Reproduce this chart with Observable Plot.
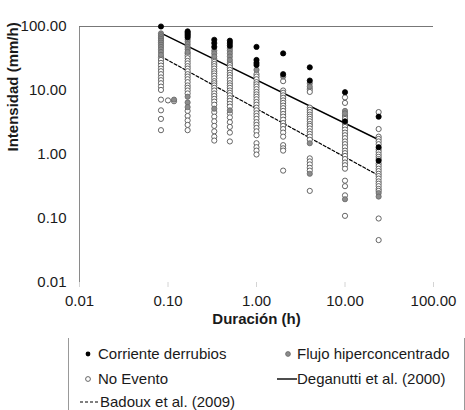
<!DOCTYPE html>
<html>
<head>
<meta charset="utf-8">
<script src="https://cdn.jsdelivr.net/npm/d3@7"></script>
<script src="https://cdn.jsdelivr.net/npm/@observablehq/plot@0.6"></script>
<style>
  body { margin: 0; background: #fff; }
  #fig { width: 465px; height: 410px; position: relative; font-family: "Liberation Sans", Arial, sans-serif; }
  #legend { position: absolute; left: 0; top: 335px; }
</style>
</head>
<body>
<div id="fig"></div>
<script>
// ---- data ----
const durations = [0.0833, 0.1, 0.117, 0.1667, 0.3333, 0.5, 1, 2, 4, 10, 24];
const corriente = [
  [100], [], [], [84, 80, 76, 72, 68], [62, 55, 48], [60, 55, 50],
  [48, 30, 27, 25], [38, 18], [23, 14.3], [9.4, 3.3], [3.9, 1.3, 0.8]
];
const flujo = [
  [78, 73, 68, 64, 60, 56, 52, 48, 44, 40, 36], [], [7.2],
  [63, 58, 53, 48, 44, 40, 8.0, 6.5, 5.5], [42, 38, 34, 5.2], [46, 42, 38, 34, 30, 4.9],
  [21], [16.5], [13, 11.5, 1.5, 0.5], [4.8, 4.4, 0.2], [0.25, 0.22]
];
const noEvento = [
  [33, 30, 27, 24.5, 22, 20, 18, 16, 14.5, 13, 11.5, 10.2, 7.2, 4.9, 3.6, 2.4],
  [7.0], [6.8],
  [38, 35, 32, 29, 26.5, 24, 22, 20, 18, 16.5, 15, 13.5, 12, 11, 10, 9, 4.8, 4.0, 3.4, 2.9, 2.4],
  [31, 28, 26, 24, 22, 20, 18.5, 17, 15.5, 14, 13, 12, 11, 10, 9, 8.2, 7.4, 6.7, 6.0, 4.6, 3.9, 3.3, 2.8, 2.3, 1.9, 1.65],
  [27, 25, 23, 21, 19, 17.5, 16, 14.5, 13, 12, 11, 10, 9.2, 8.4, 7.6, 6.9, 6.2, 5.6, 4.4, 3.8, 3.2, 2.7, 2.2, 1.6],
  [18, 16.5, 15, 13.5, 12.5, 11.5, 10.5, 9.5, 8.7, 8.0, 7.3, 6.6, 6.0, 5.4, 4.9, 4.4, 4.0, 3.6, 3.2, 2.9, 2.6, 2.3, 2.0, 1.5, 1.3, 1.15, 1.0],
  [14, 10, 9.2, 8.4, 7.7, 7.0, 6.4, 5.8, 5.3, 4.8, 4.3, 3.9, 3.5, 3.1, 2.8, 2.5, 2.2, 1.9, 1.4, 1.25, 1.15, 0.56],
  [10.5, 9.5, 5.4, 5.0, 4.6, 4.2, 3.9, 3.6, 3.3, 3.0, 2.8, 2.55, 2.3, 2.1, 1.9, 1.7, 0.87, 0.78, 0.7, 0.62, 0.56, 0.27],
  [7.8, 6.4, 4.0, 3.6, 3.0, 2.7, 2.45, 2.2, 2.0, 1.8, 1.6, 1.45, 1.3, 1.15, 1.05, 0.95, 0.85, 0.75, 0.68, 0.6, 0.39, 0.32, 0.23, 0.11],
  [4.6, 2.5, 1.9, 1.75, 1.6, 1.45, 1.2, 1.1, 1.0, 0.92, 0.85, 0.72, 0.66, 0.6, 0.55, 0.5, 0.46, 0.42, 0.38, 0.35, 0.32, 0.29, 0.27, 0.1, 0.046]
];
const lineDur = [0.0833, 24];
const deganutti = [78.5, 1.7];
const badoux = [34, 0.47];
const ticks = [0.01, 0.1, 1, 10, 100];
const xTitle = "Duración (h)";
const yTitle = "Intensidad (mm/h)";
const legendLabels = ["Corriente derrubios", "Flujo hiperconcentrado", "No Evento", "Deganutti et al. (2000)", "Badoux et al. (2009)"];

// ---- build tables ----
const toRows = (arr) => arr.flatMap((vals, i) => vals.map(v => ({d: durations[i], v})));
const rowsC = toRows(corriente);
const rowsF = toRows(flujo);
const rowsN = toRows(noEvento);
const degRows = lineDur.map((d, i) => ({d, v: deganutti[i]}));
const badRows = lineDur.map((d, i) => ({d, v: badoux[i]}));
const fmt = d3.format(".2f");

const chart = Plot.plot({
  width: 465, height: 335,
  marginTop: 26, marginBottom: 53, marginLeft: 79, marginRight: 32,
  style: {fontFamily: "'Liberation Sans', Arial, sans-serif", fontSize: "15px", color: "#1a1a1a", background: "white"},
  x: {type: "log", domain: [0.01, 100]},
  y: {type: "log", domain: [0.01, 100]},
  marks: [
    Plot.axisY(ticks, {tickFormat: fmt, tickSize: 0, tickPadding: 13, label: null}),
    Plot.axisX(ticks, {tickFormat: fmt, tickSize: 5, tickPadding: 8, stroke: "#d4d4d4", fill: "#1a1a1a", label: null}),
    Plot.ruleX([0.01], {stroke: "#8a8a8a"}),
    Plot.ruleY([100], {stroke: "#777"}),
    Plot.line(degRows, {x: "d", y: "v", stroke: "#000", strokeWidth: 1.4}),
    Plot.line(badRows, {x: "d", y: "v", stroke: "#000", strokeWidth: 1.2, strokeDasharray: "3,2"}),
    Plot.dot(rowsN, {x: "d", y: "v", r: 2.6, fill: "#fff", stroke: "#555", strokeWidth: 0.9}),
    Plot.dot(rowsF, {x: "d", y: "v", r: 2.6, fill: "#8c8c8c", stroke: "#666", strokeWidth: 0.8}),
    Plot.dot(rowsC, {x: "d", y: "v", r: 2.6, fill: "#000", stroke: "#000", strokeWidth: 0.8}),
    Plot.text([xTitle], {frameAnchor: "bottom", dy: 41, fontWeight: "bold", fontSize: 15, fill: "#1a1a1a"}),
    Plot.text([yTitle], {frameAnchor: "left", dx: -66, dy: -3, rotate: -90, fontWeight: "bold", fontSize: 15, fill: "#1a1a1a"})
  ]
});
const fig = document.getElementById("fig");
fig.appendChild(chart);

// ---- legend below the chart ----
const lg = d3.create("svg").attr("id", "legend").attr("width", 465).attr("height", 75)
  .style("font-family", "'Liberation Sans', Arial, sans-serif").style("font-size", "15px");
lg.append("line").attr("x1", 68.5).attr("x2", 68.5).attr("y1", 3).attr("y2", 75).attr("stroke", "#999");
lg.append("line").attr("x1", 464.5).attr("x2", 464.5).attr("y1", 3).attr("y2", 75).attr("stroke", "#999");
const txt = (x, y, s) => lg.append("text").attr("x", x).attr("y", y).attr("dy", "0.35em").attr("fill", "#1a1a1a").text(s);
lg.append("circle").attr("cx", 88).attr("cy", 19).attr("r", 2.4).attr("fill", "#000");
txt(98, 19, legendLabels[0]);
lg.append("circle").attr("cx", 288).attr("cy", 19).attr("r", 2.4).attr("fill", "#8c8c8c").attr("stroke", "#666").attr("stroke-width", 0.8);
txt(297, 19, legendLabels[1]);
lg.append("circle").attr("cx", 88).attr("cy", 44).attr("r", 2.4).attr("fill", "#fff").attr("stroke", "#555").attr("stroke-width", 0.9);
txt(98, 44, legendLabels[2]);
lg.append("line").attr("x1", 277).attr("x2", 297).attr("y1", 44).attr("y2", 44).attr("stroke", "#000").attr("stroke-width", 1.4);
txt(297, 44, legendLabels[3]);
lg.append("line").attr("x1", 80).attr("x2", 99).attr("y1", 67).attr("y2", 67).attr("stroke", "#000").attr("stroke-width", 1.2).attr("stroke-dasharray", "3,2");
txt(100, 67, legendLabels[4]);
fig.appendChild(lg.node());
</script>
</body>
</html>
